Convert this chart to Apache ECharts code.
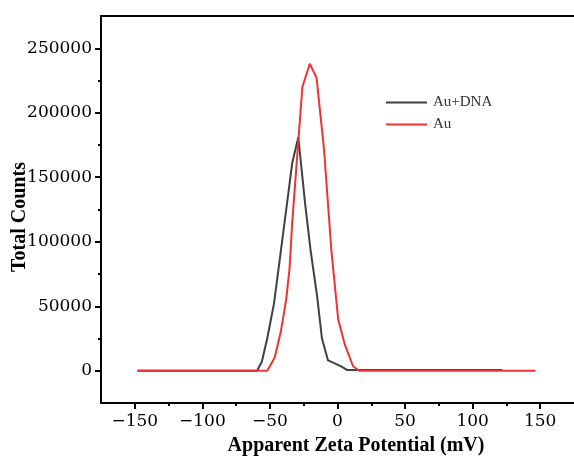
<!DOCTYPE html>
<html>
<head>
<meta charset="utf-8">
<script src="https://cdn.jsdelivr.net/npm/echarts@6/dist/echarts.min.js"></script>
<style>html,body{margin:0;padding:0;background:#fff}#c{width:574px;height:457px}</style>
</head>
<body>
<div id="c"></div>
<script>
const seriesNames = ['Au+DNA', 'Au'];
const auDnaData = [[-148,0],[-59.5,0],[-56,7000],[-52,25000],[-47,52000],[-43,84000],[-33.5,161000],[-29,181000],[-24,130000],[-20,94000],[-15,57000],[-11.5,25000],[-7,8000],[2,3800],[7,600],[122,600]];
const auData = [[-148,0],[-52,0],[-46.5,10000],[-42,30000],[-38,55000],[-35.5,79000],[-33.5,115000],[-26,220000],[-20.5,238000],[-15.5,227000],[-10,172000],[-4.5,93000],[0.5,40000],[5.5,20000],[11.5,3500],[16,0],[146.5,0]];
const xMajor = [-150,-100,-50,0,50,100,150];
const xMinor = [-125,-75,-25,25,75,125];
const yMajor = [0,50000,100000,150000,200000,250000];
const yMinor = [25000,75000,125000,175000,225000];
const xTitle = 'Apparent Zeta Potential (mV)';
const yTitle = 'Total Counts';

const chart = echarts.init(document.getElementById('c'));
const lineC = '#000';
const labelFont = {fontFamily:'DejaVu Serif', fontSize:17, color:'#000'};
const xBase = {type:'value', min:-175, max:175, splitLine:{show:false}, gridIndex:0};
const yBase = {type:'value', min:-25000, max:275000, splitLine:{show:false}, gridIndex:0};
chart.setOption({
  animation:false,
  backgroundColor:'#fff',
  grid:{left:101, top:16, width:480, height:387},
  legend:{
    data:seriesNames, orient:'vertical', left:381, top:90,
    icon:'rect', itemWidth:41, itemHeight:2, itemGap:7,
    textStyle:{fontFamily:'Liberation Serif', fontSize:15, color:'#333', padding:[0,0,0,1]}
  },
  xAxis:[
    Object.assign({}, xBase, {position:'bottom',
      axisLine:{show:true, onZero:false, lineStyle:{color:lineC, width:2}},
      axisTick:{show:true, inside:false, length:6, customValues:xMajor, lineStyle:{color:lineC, width:2}},
      axisLabel:Object.assign({customValues:xMajor, margin:10, formatter:v=>String(v).replace('-','\u2212')}, labelFont)}),
    Object.assign({}, xBase, {position:'bottom',
      axisLine:{show:false, onZero:false},
      axisTick:{show:true, inside:false, length:3, customValues:xMinor, lineStyle:{color:lineC, width:2}},
      axisLabel:{show:false}}),
    Object.assign({}, xBase, {position:'top',
      axisLine:{show:true, onZero:false, lineStyle:{color:lineC, width:2}},
      axisTick:{show:false}, axisLabel:{show:false}})
  ],
  yAxis:[
    Object.assign({}, yBase, {position:'left',
      axisLine:{show:true, onZero:false, lineStyle:{color:lineC, width:2}},
      axisTick:{show:true, inside:false, length:6, customValues:yMajor, lineStyle:{color:lineC, width:2}},
      axisLabel:Object.assign({customValues:yMajor, margin:9, formatter:v=>String(v)}, labelFont)}),
    Object.assign({}, yBase, {position:'left',
      axisLine:{show:false, onZero:false},
      axisTick:{show:true, inside:false, length:3, customValues:yMinor, lineStyle:{color:lineC, width:2}},
      axisLabel:{show:false}})
  ],
  series:[
    {name:seriesNames[0], type:'line', data:auDnaData, xAxisIndex:0, yAxisIndex:0, symbol:'none', lineStyle:{color:'#404040', width:2}, itemStyle:{color:'#404040'}, z:2},
    {name:seriesNames[1], type:'line', data:auData, xAxisIndex:0, yAxisIndex:0, symbol:'none', lineStyle:{color:'#ee3333', width:2}, itemStyle:{color:'#ee3333'}, z:3}
  ],
  graphic:[
    {type:'text', x:356, y:446, style:{text:xTitle, font:'bold 20px "Liberation Serif"', fill:'#000', align:'center', verticalAlign:'middle'}},
    {type:'text', x:19.5, y:217, rotation:Math.PI/2, style:{text:yTitle, font:'bold 20px "Liberation Serif"', fill:'#000', align:'center', verticalAlign:'middle'}}
  ]
});
</script>
</body>
</html>
